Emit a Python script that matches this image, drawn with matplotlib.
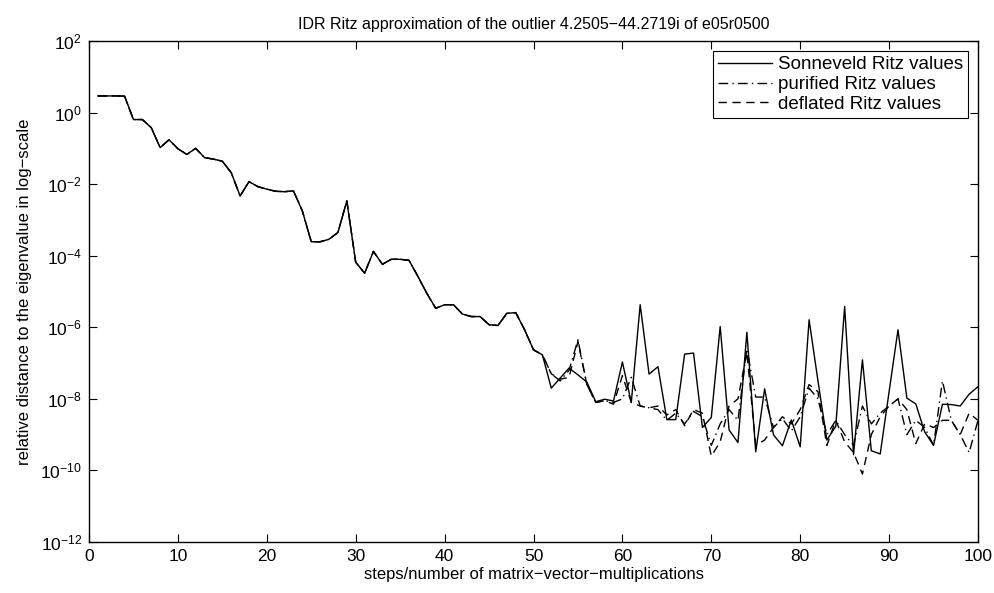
import matplotlib
matplotlib.use("Agg")
import matplotlib.pyplot as plt
import numpy as np

plt.rcParams['font.family'] = ['Liberation Sans', 'DejaVu Sans']
plt.rcParams['mathtext.fontset'] = 'custom'
plt.rcParams['mathtext.rm'] = 'Liberation Sans'
plt.rcParams['mathtext.it'] = 'Liberation Sans'
plt.rcParams['mathtext.default'] = 'regular'

steps = list(range(1, 101))

# log10 of relative distance
sonneveld_log10 = [
    0.465, 0.465, 0.465, 0.46, -0.195, -0.195, -0.42, -0.98, -0.76, -1.01,
    -1.17, -1.0, -1.26, -1.30, -1.36, -1.68, -2.33, -1.93, -2.07, -2.14,
    -2.20, -2.21, -2.19, -2.75, -3.61, -3.61, -3.54, -3.35, -2.47, -4.18,
    -4.49, -3.88, -4.24, -4.10, -4.10, -4.13, -4.58, -5.05, -5.47, -5.37,
    -5.37, -5.63, -5.70, -5.70, -5.93, -5.95, -5.61, -5.59, -6.07, -6.63,
    -6.77, -7.70, -7.42, -7.14, -7.33, -7.53, -8.08, -8.01, -8.06, -6.97,
    -8.10, -5.37, -7.31, -7.10, -8.58, -8.58, -6.75, -6.72, -8.80, -8.52,
    -5.98, -8.87, -9.22, -6.14, -9.48, -7.72, -9.01, -9.31, -8.59, -9.34,
    -5.79, -7.50, -9.15, -8.77, -5.42, -9.56, -6.91, -9.45, -9.54, -7.80,
    -6.07, -7.98, -8.14, -8.92, -9.30, -8.15, -8.16, -8.20, -7.87, -7.66,
]

purified_log10 = [
    0.465, 0.465, 0.465, 0.46, -0.195, -0.195, -0.42, -0.98, -0.76, -1.01,
    -1.17, -1.0, -1.26, -1.30, -1.36, -1.68, -2.33, -1.93, -2.07, -2.14,
    -2.20, -2.21, -2.19, -2.75, -3.61, -3.61, -3.54, -3.35, -2.47, -4.18,
    -4.49, -3.88, -4.24, -4.10, -4.10, -4.13, -4.58, -5.05, -5.47, -5.37,
    -5.37, -5.63, -5.70, -5.70, -5.93, -5.95, -5.61, -5.59, -6.07, -6.63,
    -6.77, -7.30, -7.50, -7.20, -6.35, -7.60, -8.10, -8.05, -8.10, -8.00,
    -7.40, -8.20, -8.25, -8.30, -8.60, -8.40, -8.70, -8.35, -8.50, -9.30,
    -8.70, -8.30, -8.60, -6.60, -7.95, -7.95, -8.80, -8.55, -8.90, -8.50,
    -7.70, -8.00, -9.00, -8.60, -9.00, -9.30, -8.20, -8.70, -8.40, -8.20,
    -8.00, -9.00, -8.60, -8.80, -9.30, -7.50, -8.60, -9.00, -9.50, -8.60,
]

deflated_log10 = [
    0.465, 0.465, 0.465, 0.46, -0.195, -0.195, -0.42, -0.98, -0.76, -1.01,
    -1.17, -1.0, -1.26, -1.30, -1.36, -1.68, -2.33, -1.93, -2.07, -2.14,
    -2.20, -2.21, -2.19, -2.75, -3.61, -3.61, -3.54, -3.35, -2.47, -4.18,
    -4.49, -3.88, -4.24, -4.10, -4.10, -4.13, -4.58, -5.05, -5.47, -5.37,
    -5.37, -5.63, -5.70, -5.70, -5.93, -5.95, -5.61, -5.59, -6.07, -6.63,
    -6.77, -7.30, -7.45, -7.40, -6.40, -7.60, -8.10, -8.05, -8.15, -7.35,
    -8.10, -8.20, -8.25, -8.20, -8.45, -8.30, -8.75, -8.30, -8.40, -9.60,
    -9.20, -8.20, -8.00, -6.70, -9.30, -9.15, -8.80, -8.50, -8.70, -8.30,
    -7.60, -7.80, -9.30, -8.60, -9.20, -9.50, -10.10, -9.00, -8.50, -8.20,
    -8.00, -8.30, -9.25, -8.70, -8.80, -8.60, -8.60, -9.00, -8.40, -8.60,
]

labels = ['Sonneveld Ritz values', 'purified Ritz values', 'deflated Ritz values']
title = 'IDR Ritz approximation of the outlier 4.2505\u221244.2719i of e05r0500'
xlabel = 'steps/number of matrix\u2212vector\u2212multiplications'
ylabel = 'relative distance to the eigenvalue in log\u2212scale'

fig = plt.figure(figsize=(9.94, 5.93), dpi=100)
ax = fig.add_axes([89/994, 51/593, (978-89)/994, (542-41)/593])

ax.semilogy(steps, 10.0**np.array(sonneveld_log10), '-', color='k', lw=1.0, label=labels[0])
ax.semilogy(steps, 10.0**np.array(purified_log10), '-.', color='k', lw=1.0, label=labels[1],
            dashes=(7, 3, 1, 3))
ax.semilogy(steps, 10.0**np.array(deflated_log10), '--', color='k', lw=1.0, label=labels[2],
            dashes=(6, 4))

ax.set_xlim(0, 100)
ax.set_ylim(1e-12, 1e2)
ax.set_xticks(range(0, 101, 10))
ax.set_yticks([10.0**k for k in range(-12, 3, 2)])
ax.minorticks_off()
ax.yaxis.set_minor_locator(matplotlib.ticker.NullLocator())
ax.tick_params(direction='in', top=True, right=True, length=6, width=0.8, labelsize=12.5, pad=5)
for s in ax.spines.values():
    s.set_linewidth(1.0)

ax.set_title(title, fontsize=11.5, pad=9)
ax.set_xlabel(xlabel, fontsize=12, labelpad=2)
ax.set_ylabel(ylabel, fontsize=12, labelpad=6)

leg = ax.legend(loc='upper right', fontsize=13.5, fancybox=False, edgecolor='k',
                framealpha=1, borderaxespad=0.55, handlelength=2.9, labelspacing=0.15,
                handletextpad=0.3, borderpad=0.25)
leg.get_frame().set_linewidth(0.8)

fig.savefig('out.png', dpi=100)
